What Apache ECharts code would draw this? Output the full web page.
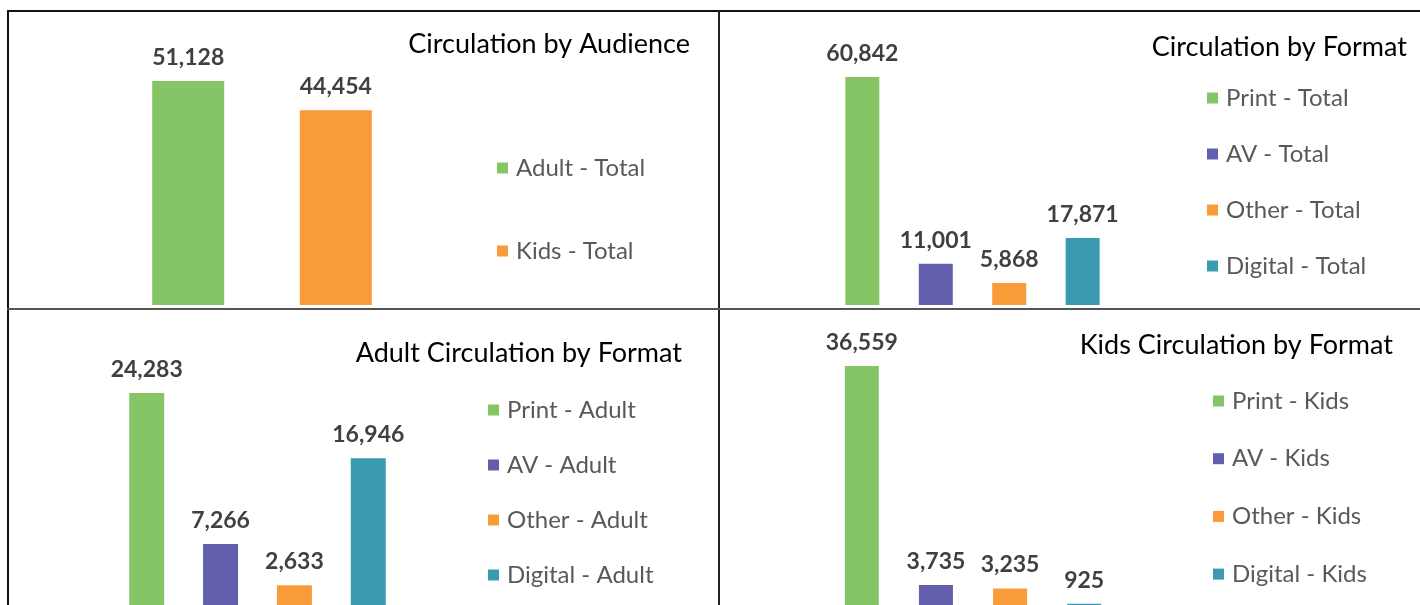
<!DOCTYPE html>
<html>
<head>
<meta charset="utf-8">
<script src="https://cdn.jsdelivr.net/npm/echarts@6/dist/echarts.min.js"></script>
<style>
  html, body { margin: 0; padding: 0; background: #fff; overflow: hidden; width: 1420px; height: 605px; }
  .chart { position: absolute; }
  #audienceChart { left: 7px; top: 10px; width: 712px; height: 299px; }
  #formatChart { left: 720px; top: 10px; width: 700px; height: 299px; }
  #adultChart { left: 7px; top: 310px; width: 712px; height: 310px; }
  #kidsChart { left: 720px; top: 310px; width: 700px; height: 310px; }
  .rule { position: absolute; z-index: 5; }
</style>
</head>
<body>
<div id="audienceChart" class="chart"></div>
<div id="formatChart" class="chart"></div>
<div id="adultChart" class="chart"></div>
<div id="kidsChart" class="chart"></div>
<!-- table borders -->
<div class="rule" style="left:7px;top:10px;width:1413px;height:2px;background:#111;"></div>
<div class="rule" style="left:7px;top:10px;width:2px;height:600px;background:#111;"></div>
<div class="rule" style="left:718px;top:10px;width:2px;height:600px;background:#222;"></div>
<div class="rule" style="left:7px;top:308px;width:1413px;height:2px;background:#555;"></div>
<script>
// data
const audienceNames = ["Adult - Total", "Kids - Total"];
const audienceValues = [51128, 44454];
const formatNames = ["Print - Total", "AV - Total", "Other - Total", "Digital - Total"];
const formatValues = [60842, 11001, 5868, 17871];
const adultNames = ["Print - Adult", "AV - Adult", "Other - Adult", "Digital - Adult"];
const adultValues = [24283, 7266, 2633, 16946];
const kidsNames = ["Print - Kids", "AV - Kids", "Other - Kids", "Digital - Kids"];
const kidsValues = [36559, 3735, 3235, 925];

const green = "#86c565", purple = "#635fac", orange = "#f99b38", teal = "#3a9ab0";
const font = "Lato, 'Open Sans', sans-serif";

// build one panel's option
function panelOption(cfg) {
  const series = cfg.names.map((name, i) => ({
    name: name,
    type: "bar",
    data: [cfg.values[i]],
    barWidth: cfg.barWidth,
    barGap: cfg.barGap,
    itemStyle: { color: cfg.colors[i] },
    label: {
      show: true,
      position: "top",
      distance: 12,
      color: "#404040",
      fontFamily: font,
      fontWeight: "bold",
      fontSize: 23,
      formatter: (p) => p.value.toLocaleString("en-US"),
    },
  }));
  return {
    animation: false,
    title: {
      text: cfg.title,
      right: cfg.titleRight,
      top: cfg.titleTop,
      padding: 0,
      textStyle: { color: "#000", fontFamily: font, fontWeight: "normal", fontSize: 27, lineHeight: 32 },
    },
    legend: {
      orient: "vertical",
      left: cfg.legendLeft,
      top: cfg.legendTop,
      padding: 0,
      itemGap: cfg.legendGap,
      itemWidth: 11,
      itemHeight: 11,
      icon: "rect",
      selectedMode: false,
      textStyle: { color: "#595959", fontFamily: font, fontSize: 24, lineHeight: 28, padding: [0, 0, 0, 3] },
      data: cfg.names,
    },
    grid: cfg.grid,
    xAxis: { type: "category", data: [""], show: false },
    yAxis: { type: "value", min: 0, max: cfg.max, show: false, splitLine: { show: false } },
    series: series,
  };
}

const audienceChart = echarts.init(document.getElementById("audienceChart"));
audienceChart.setOption(panelOption({
  title: "Circulation by Audience", titleRight: 29, titleTop: 18,
  names: audienceNames, values: audienceValues, colors: [green, orange],
  barWidth: 72, barGap: "105%", max: 60000,
  grid: { left: 105, width: 300, top: 32, bottom: 4 },
  legendLeft: 490, legendTop: 144, legendGap: 55,
}));

const formatChart = echarts.init(document.getElementById("formatChart"));
formatChart.setOption(panelOption({
  title: "Circulation by Format", titleRight: 13, titleTop: 21,
  names: formatNames, values: formatValues, colors: [green, purple, orange, teal],
  barWidth: 34, barGap: "116%", max: 70000,
  grid: { left: 102.5, width: 300, top: 32.7, bottom: 4 },
  legendLeft: 487, legendTop: 74, legendGap: 28,
}));

const adultChart = echarts.init(document.getElementById("adultChart"));
adultChart.setOption(panelOption({
  title: "Adult Circulation by Format", titleRight: 37, titleTop: 27,
  names: adultNames, values: adultValues, colors: [green, purple, orange, teal],
  barWidth: 35, barGap: "111%", max: 30000,
  grid: { left: 100.5, width: 300, top: 32.3, bottom: 11.5 },
  legendLeft: 481, legendTop: 86, legendGap: 27,
}));

const kidsChart = echarts.init(document.getElementById("kidsChart"));
kidsChart.setOption(panelOption({
  title: "Kids Circulation by Format", titleRight: 27, titleTop: 19,
  names: kidsNames, values: kidsValues, colors: [green, purple, orange, teal],
  barWidth: 34, barGap: "118%", max: 40000,
  grid: { left: 103, width: 300, top: 33.1, bottom: 10 },
  legendLeft: 493, legendTop: 77, legendGap: 29.7,
}));
</script>
</body>
</html>
